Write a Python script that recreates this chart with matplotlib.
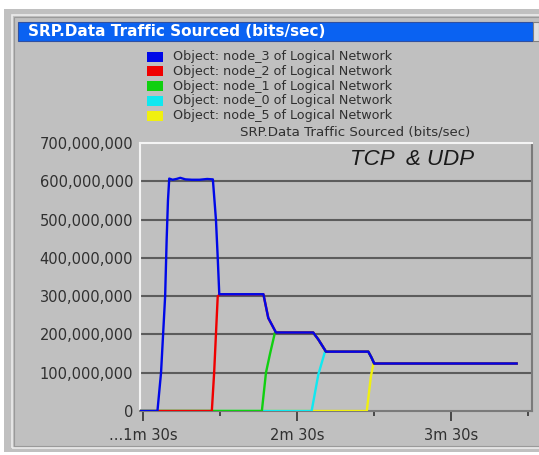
import matplotlib
matplotlib.use("Agg")
import matplotlib.pyplot as plt
from matplotlib.patches import Rectangle

W, H = 539, 455
plt.rcParams['font.family'] = ['DejaVu Sans']

# ---- data (time in seconds, value in bits/sec) ----
node3_t = [89, 95.6, 97.0, 97.8, 98.6, 99.2, 99.7, 100.2, 101.5, 103, 104.5, 106.5, 109, 112, 115, 117.2,
           118.4, 119.1, 119.7, 136.9, 138.8, 141.8, 156.3, 158.3, 161.3, 177.8, 179.0, 180.1, 235.6]
node3_v = [0, 0, 100e6, 200e6, 300e6, 450e6, 550e6, 607e6, 604e6, 606e6, 609e6, 605e6, 604e6, 604e6, 606e6, 605e6,
           500e6, 400e6, 305e6, 305e6, 243e6, 205e6, 205e6, 187e6, 155e6, 155e6, 140e6, 124e6, 124e6]

node2_t = [89, 116.8, 117.7, 118.4, 119.1, 120.0, 136.9, 138.8, 141.8, 156.3, 158.3, 161.3, 177.8, 179.0, 180.1, 235.6]
node2_v = [0, 0, 100e6, 200e6, 300e6, 305e6, 305e6, 243e6, 205e6, 205e6, 187e6, 155e6, 155e6, 140e6, 124e6, 124e6]

node1_t = [89, 136.3, 137.9, 139.5, 141.4, 156.3, 158.3, 161.3, 177.8, 179.0, 180.1, 235.6]
node1_v = [0, 0, 100e6, 150e6, 205e6, 205e6, 187e6, 155e6, 155e6, 140e6, 124e6, 124e6]

node0_t = [89, 155.7, 158.3, 160.9, 177.8, 179.0, 180.1, 235.6]
node0_v = [0, 0, 95e6, 155e6, 155e6, 140e6, 124e6, 124e6]

node5_t = [89, 177.2, 178.8, 179.8, 235.6]
node5_v = [0, 0, 90e6, 124e6, 124e6]

series_names = ["Object: node_3 of Logical Network", "Object: node_2 of Logical Network",
                "Object: node_1 of Logical Network", "Object: node_0 of Logical Network",
                "Object: node_5 of Logical Network"]
series_colors = ["#0008e8", "#f00000", "#10d010", "#10e8f0", "#f0f010"]

yticks = [0, 100e6, 200e6, 300e6, 400e6, 500e6, 600e6, 700e6]
ytick_labels = ["0", "100,000,000", "200,000,000", "300,000,000", "400,000,000",
                "500,000,000", "600,000,000", "700,000,000"]
xticks_major = [90, 150, 210]
xtick_labels = ["...1m 30s", "2m 30s", "3m 30s"]
xticks_minor = [120, 180, 240]

title = "SRP.Data Traffic Sourced (bits/sec)"
annot = "TCP  & UDP"

BG = "#c0c0c0"
TXT = "#303030"

fig = plt.figure(figsize=(W / 100, H / 100), dpi=100, facecolor="white")

def fx(x):
    return x / W

def fy(y):
    return 1 - y / H

def rect(x0, y0, x1, y1, **kw):
    fig.add_artist(Rectangle((fx(x0), fy(y1)), fx(x1) - fx(x0), fy(y0) - fy(y1),
                             transform=fig.transFigure, **kw))

# panel background and frame
rect(4, 9, 539, 452, facecolor=BG, edgecolor="none", zorder=0)
rect(12, 15, 545, 448, facecolor="none", edgecolor="#ececec", lw=1.2, zorder=1)
rect(14, 17, 545, 446, facecolor="none", edgecolor="#9a9a9a", lw=0.8, zorder=1)

# title bar
rect(18, 21.5, 533, 40.5, facecolor="#0a62f2", edgecolor="#3050a0", lw=0.8, zorder=2)
rect(533, 21.5, 539, 40.5, facecolor="#e0e0e0", edgecolor="#808080", lw=0.8, zorder=2)
fig.text(fx(28), fy(31.5), title, color="white", fontsize=11, fontweight="bold",
         va="center", ha="left", zorder=3)

# legend
rows_y = [56.7, 71.4, 86.1, 100.8, 115.5]
for yy, name, col in zip(rows_y, series_names, series_colors):
    rect(147, yy - 5, 163, yy + 5, facecolor=col, edgecolor="none", zorder=2)
    fig.text(fx(173), fy(yy), name, fontsize=9.2, color=TXT, va="center", ha="left", zorder=3)
fig.text(fx(470), fy(131.8), title, fontsize=9.6, color=TXT, va="center", ha="right", zorder=3)

# axes
ax = fig.add_axes([fx(140), fy(411), fx(532) - fx(140), fy(143) - fy(411)])
ax.set_facecolor(BG)
ax.set_xlim(88.8, 241.6)
ax.set_ylim(0, 700e6)

for v in yticks[1:-1]:
    ax.axhline(v, color="#5c5c5c", lw=1.5, zorder=1)

series_t = [node3_t, node2_t, node1_t, node0_t, node5_t]
series_v = [node3_v, node2_v, node1_v, node0_v, node5_v]
for i in reversed(range(5)):
    ax.plot(series_t[i], series_v[i], color=series_colors[i], lw=1.7, zorder=2 + (5 - i))

ax.spines["left"].set_color("#f4f4f4")
ax.spines["top"].set_color("#f4f4f4")
ax.spines["right"].set_color("#7a7a7a")
ax.spines["bottom"].set_color("#7a7a7a")
for s in ax.spines.values():
    s.set_linewidth(1.5)

ax.set_yticks(yticks)
ax.set_yticklabels(ytick_labels, fontsize=10.5, color=TXT)
ax.tick_params(axis="y", length=0, pad=5)
ax.set_xticks(xticks_major)
ax.set_xticklabels(xtick_labels, fontsize=10.5, color=TXT)
ax.set_xticks(xticks_minor, minor=True)
ax.tick_params(axis="x", which="major", length=7, width=1.2, color="#333333", pad=5, direction="out")
ax.tick_params(axis="x", which="minor", length=3.5, width=1.2, color="#333333", direction="out")

ax.text(0.693, 0.937, annot, transform=ax.transAxes, fontsize=16, style="italic",
        color="#1a1a1a", ha="center", va="center", family=["Liberation Sans"])

fig.savefig("out.png", dpi=100, facecolor="white")
